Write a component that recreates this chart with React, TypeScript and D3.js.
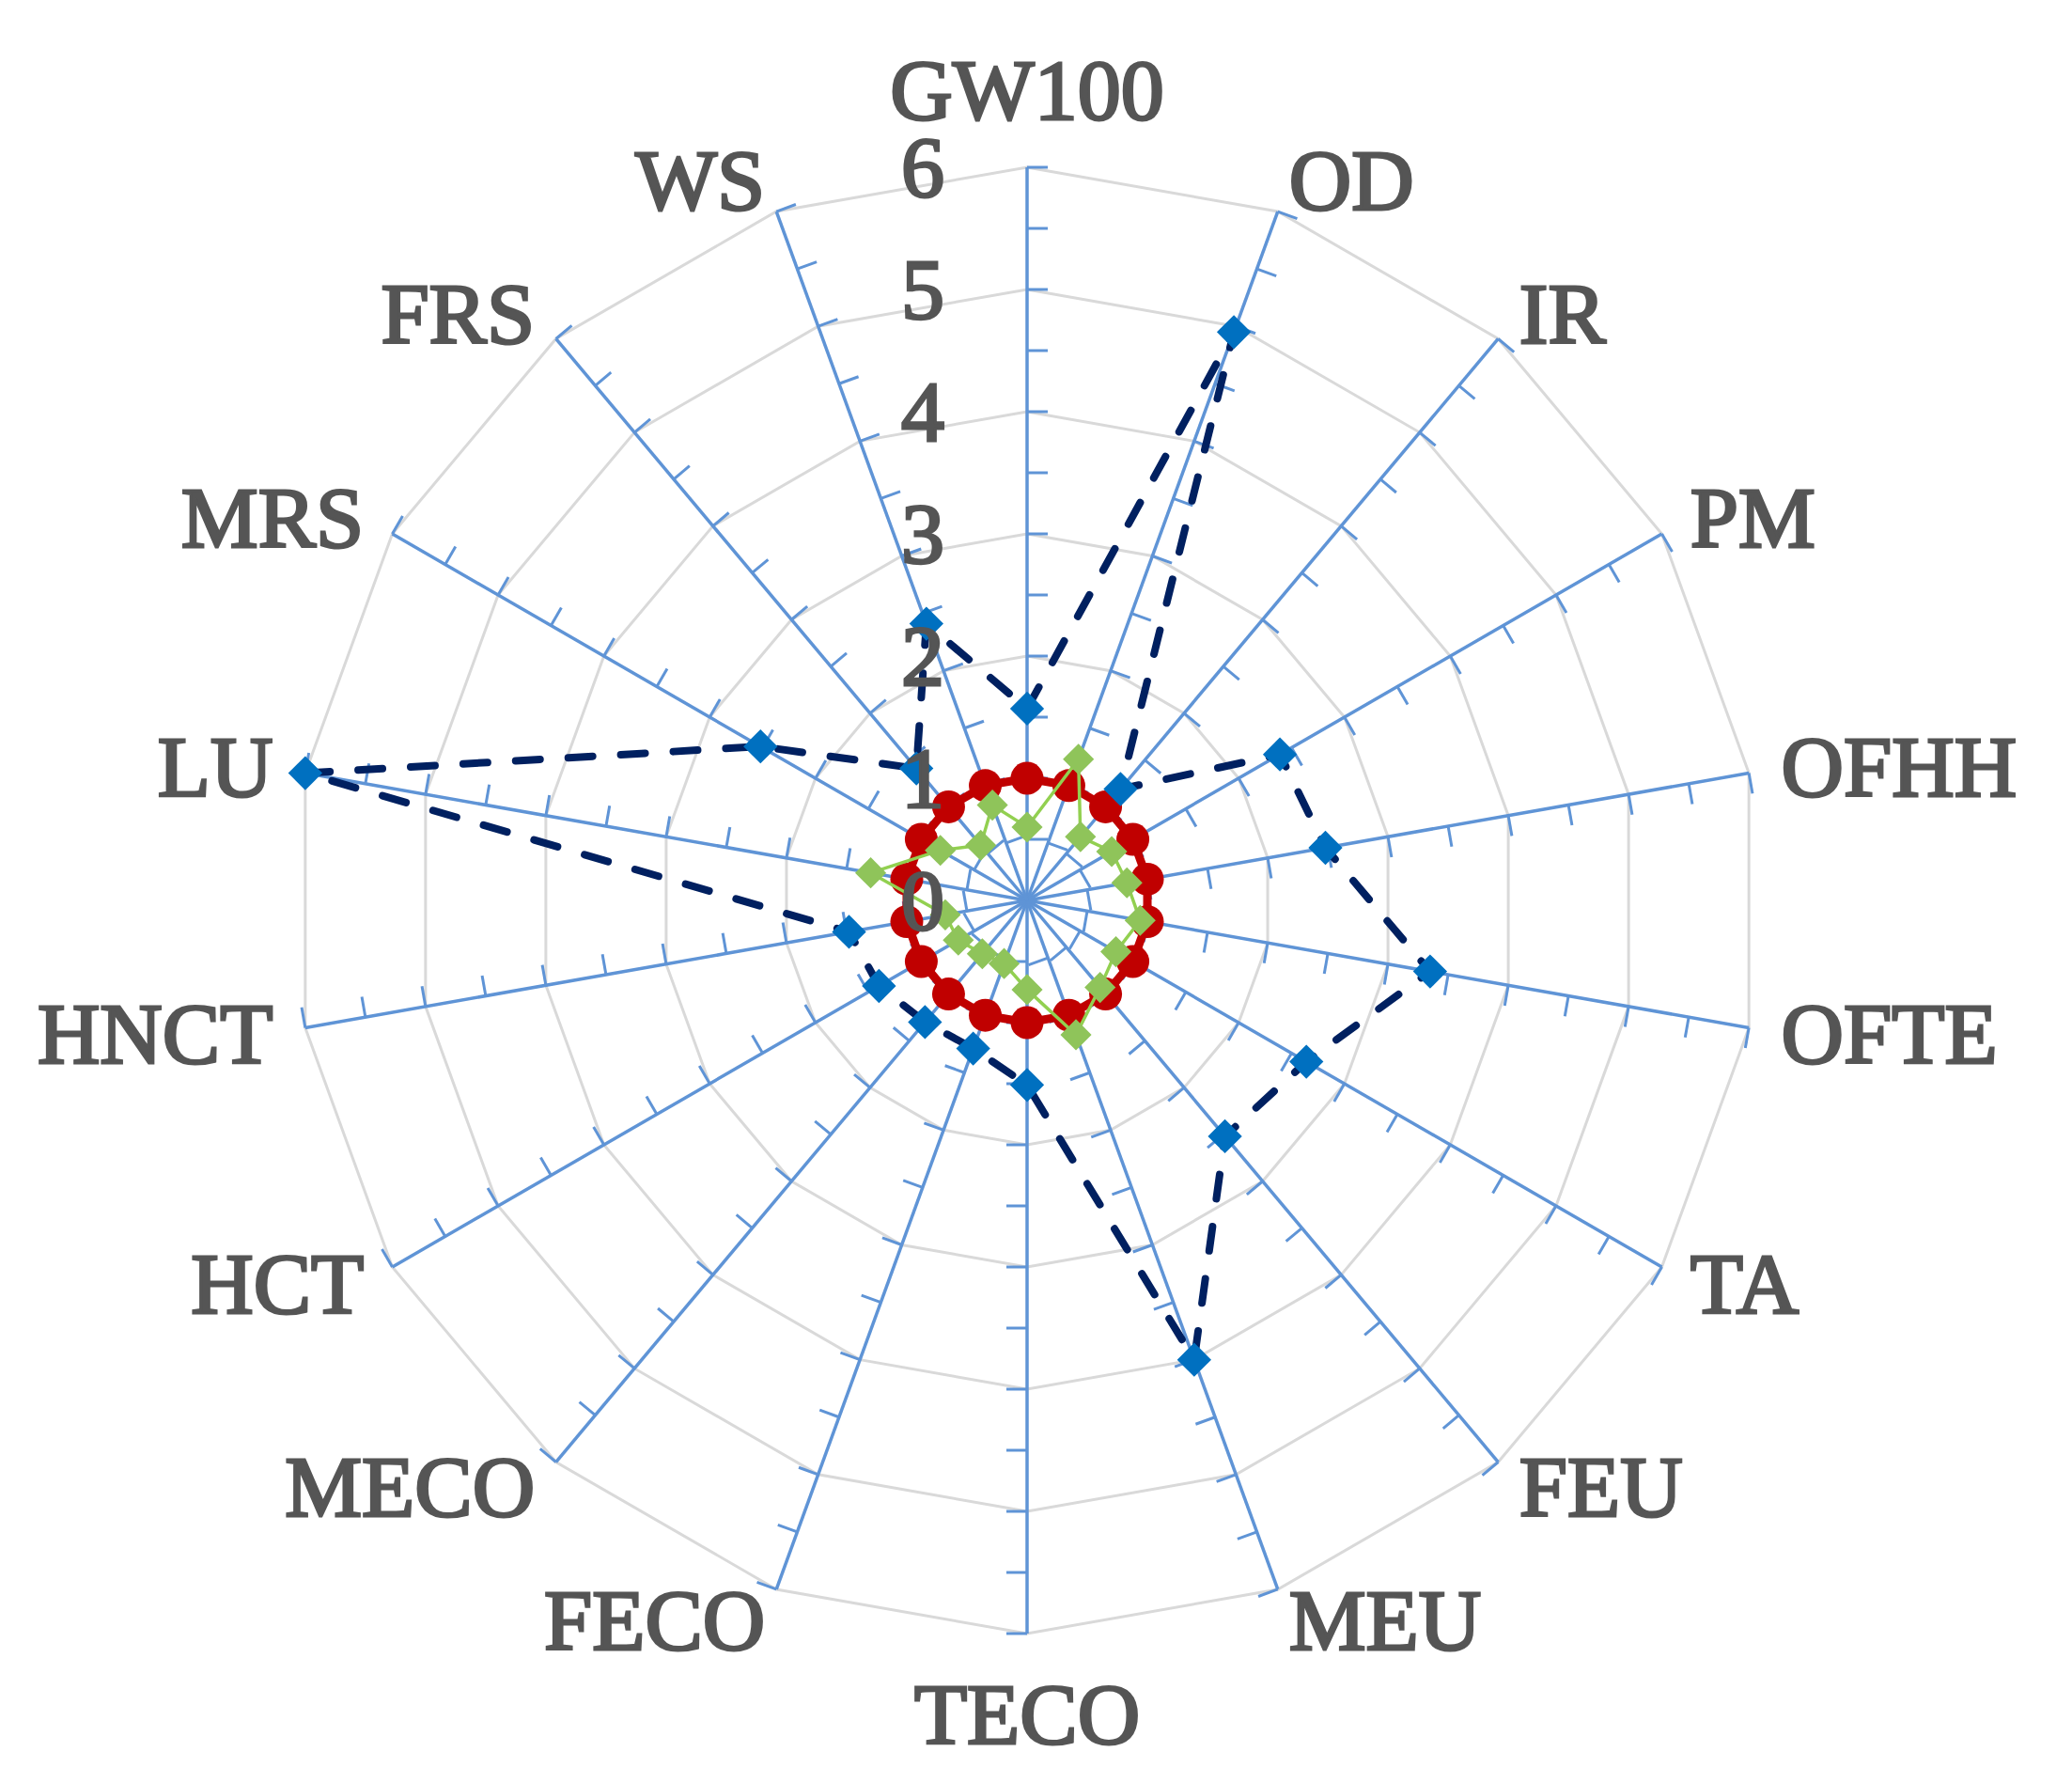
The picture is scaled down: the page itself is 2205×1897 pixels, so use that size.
import React from 'react';
import * as d3 from 'd3';

const categories = ['GW100', 'OD', 'IR', 'PM', 'OFHH', 'OFTE', 'TA', 'FEU', 'MEU', 'TECO', 'FECO', 'MECO', 'HCT', 'HNCT', 'LU', 'MRS', 'FRS', 'WS'];
const blueValues = [1.57, 4.95, 1.19, 2.39, 2.48, 3.35, 2.64, 2.52, 4.0, 1.51, 1.29, 1.3, 1.4, 1.48, 6.0, 2.52, 1.41, 2.41];
const redValues = [1, 1, 1, 1, 1, 1, 1, 1, 1, 1, 1, 1, 1, 1, 1, 1, 1, 1];
const greenValues = [0.6, 1.23, 0.68, 0.8, 0.83, 0.94, 0.84, 0.93, 1.17, 0.73, 0.55, 0.57, 0.65, 0.68, 1.3, 0.82, 0.59, 0.83];
const tickLabels = [0, 1, 2, 3, 4, 5, 6];
const minorTicks = [0.5, 1, 1.5, 2, 2.5, 3, 3.5, 4, 4.5, 5, 5.5, 6];

const W = 2205;
const H = 1897;
const CX = 1093;
const CY = 958;
const R = 780;

export default function App() {
  const r = d3.scaleLinear().domain([0, 6]).range([0, R]);
  const n = categories.length;
  const ang = (i: number) => (i * 2 * Math.PI) / n;
  const px = (i: number, v: number) => CX + r(v) * Math.sin(ang(i));
  const py = (i: number, v: number) => CY - r(v) * Math.cos(ang(i));

  const radial = (vals: number[]) =>
    d3
      .lineRadial<number>()
      .angle((_, i) => ang(i))
      .radius((d) => r(d))
      .curve(d3.curveLinearClosed)(vals) || '';

  const gridLevels = [1, 2, 3, 4, 5, 6];
  const labelColor = '#555555';
  const spokeColor = '#5f94d6';
  const fontFamily = "'Liberation Serif', 'Times New Roman', serif";
  const fs = 92;
  const capH = 62;

  const diamond = d3.symbol().type(d3.symbolDiamond2).size(840)() || '';
  const greenDiamond = d3.symbol().type(d3.symbolDiamond2).size(700)() || '';

  return (
    <svg
      width={W}
      height={H}
      style={{ position: 'absolute', left: 0, top: 0, background: '#fff' }}
      fontFamily={fontFamily}
    >
      <rect x={0} y={0} width={W} height={H} fill="#fff" />
      <g transform={`translate(${CX},${CY})`}>
        {gridLevels.map((lv) => (
          <path
            key={'g' + lv}
            d={radial(categories.map(() => lv))}
            fill="none"
            stroke="#d9d9d9"
            strokeWidth={3}
          />
        ))}
      </g>
      {categories.map((c, i) => (
        <g key={'s' + c}>
          <line x1={CX} y1={CY} x2={px(i, 6)} y2={py(i, 6)} stroke={spokeColor} strokeWidth={3.5} />
          {minorTicks.map((v) => {
            const x = px(i, v);
            const y = py(i, v);
            const a = ang(i);
            return (
              <line
                key={v}
                x1={x}
                y1={y}
                x2={x + 22 * Math.cos(a)}
                y2={y + 22 * Math.sin(a)}
                stroke={spokeColor}
                strokeWidth={3}
              />
            );
          })}
        </g>
      ))}
      {/* red series */}
      <g transform={`translate(${CX},${CY})`}>
        <path d={radial(redValues)} fill="none" stroke="#c00000" strokeWidth={9} />
      </g>
      {redValues.map((v, i) => (
        <circle key={'r' + i} cx={px(i, v)} cy={py(i, v)} r={17.5} fill="#c00000" />
      ))}
      {/* green series */}
      <g transform={`translate(${CX},${CY})`}>
        <path d={radial(greenValues)} fill="none" stroke="#92d050" strokeWidth={3.5} />
      </g>
      {greenValues.map((v, i) => (
        <path
          key={'gr' + i}
          d={greenDiamond}
          transform={`translate(${px(i, v)},${py(i, v)})`}
          fill="#8fc45a"
        />
      ))}
      {/* blue series */}
      <g transform={`translate(${CX},${CY})`}>
        <path
          d={radial(blueValues)}
          fill="none"
          stroke="#002060"
          strokeWidth={8}
          strokeDasharray="26 30"
          strokeLinecap="round"
        />
      </g>
      {blueValues.map((v, i) => (
        <path
          key={'b' + i}
          d={diamond}
          transform={`translate(${px(i, v)},${py(i, v)})`}
          fill="#0070c0"
        />
      ))}
      {/* value labels */}
      {tickLabels.map((t) => (
        <text
          key={'t' + t}
          x={CX - 88}
          y={CY - r(t) + capH / 2}
          textAnchor="end"
          fontSize={fs}
          fill={labelColor}
          stroke={labelColor}
          strokeWidth={3}
        >
          {t}
        </text>
      ))}
      {/* category labels */}
      {categories.map((c, i) => {
        const a = ang(i);
        const s = Math.sin(a);
        const co = Math.cos(a);
        const lr = R + 35;
        const x = CX + lr * s;
        let y = CY - lr * co;
        let anchor: 'start' | 'end' | 'middle' = 'middle';
        if (s > 0.05) anchor = 'start';
        else if (s < -0.05) anchor = 'end';
        else {
          y += co > 0 ? -47 : 51;
        }
        return (
          <text
            key={'c' + c}
            x={x}
            y={y + capH / 2}
            textAnchor={anchor}
            fontSize={fs}
            fill={labelColor}
            stroke={labelColor}
            strokeWidth={3}
          >
            {c}
          </text>
        );
      })}
    </svg>
  );
}
